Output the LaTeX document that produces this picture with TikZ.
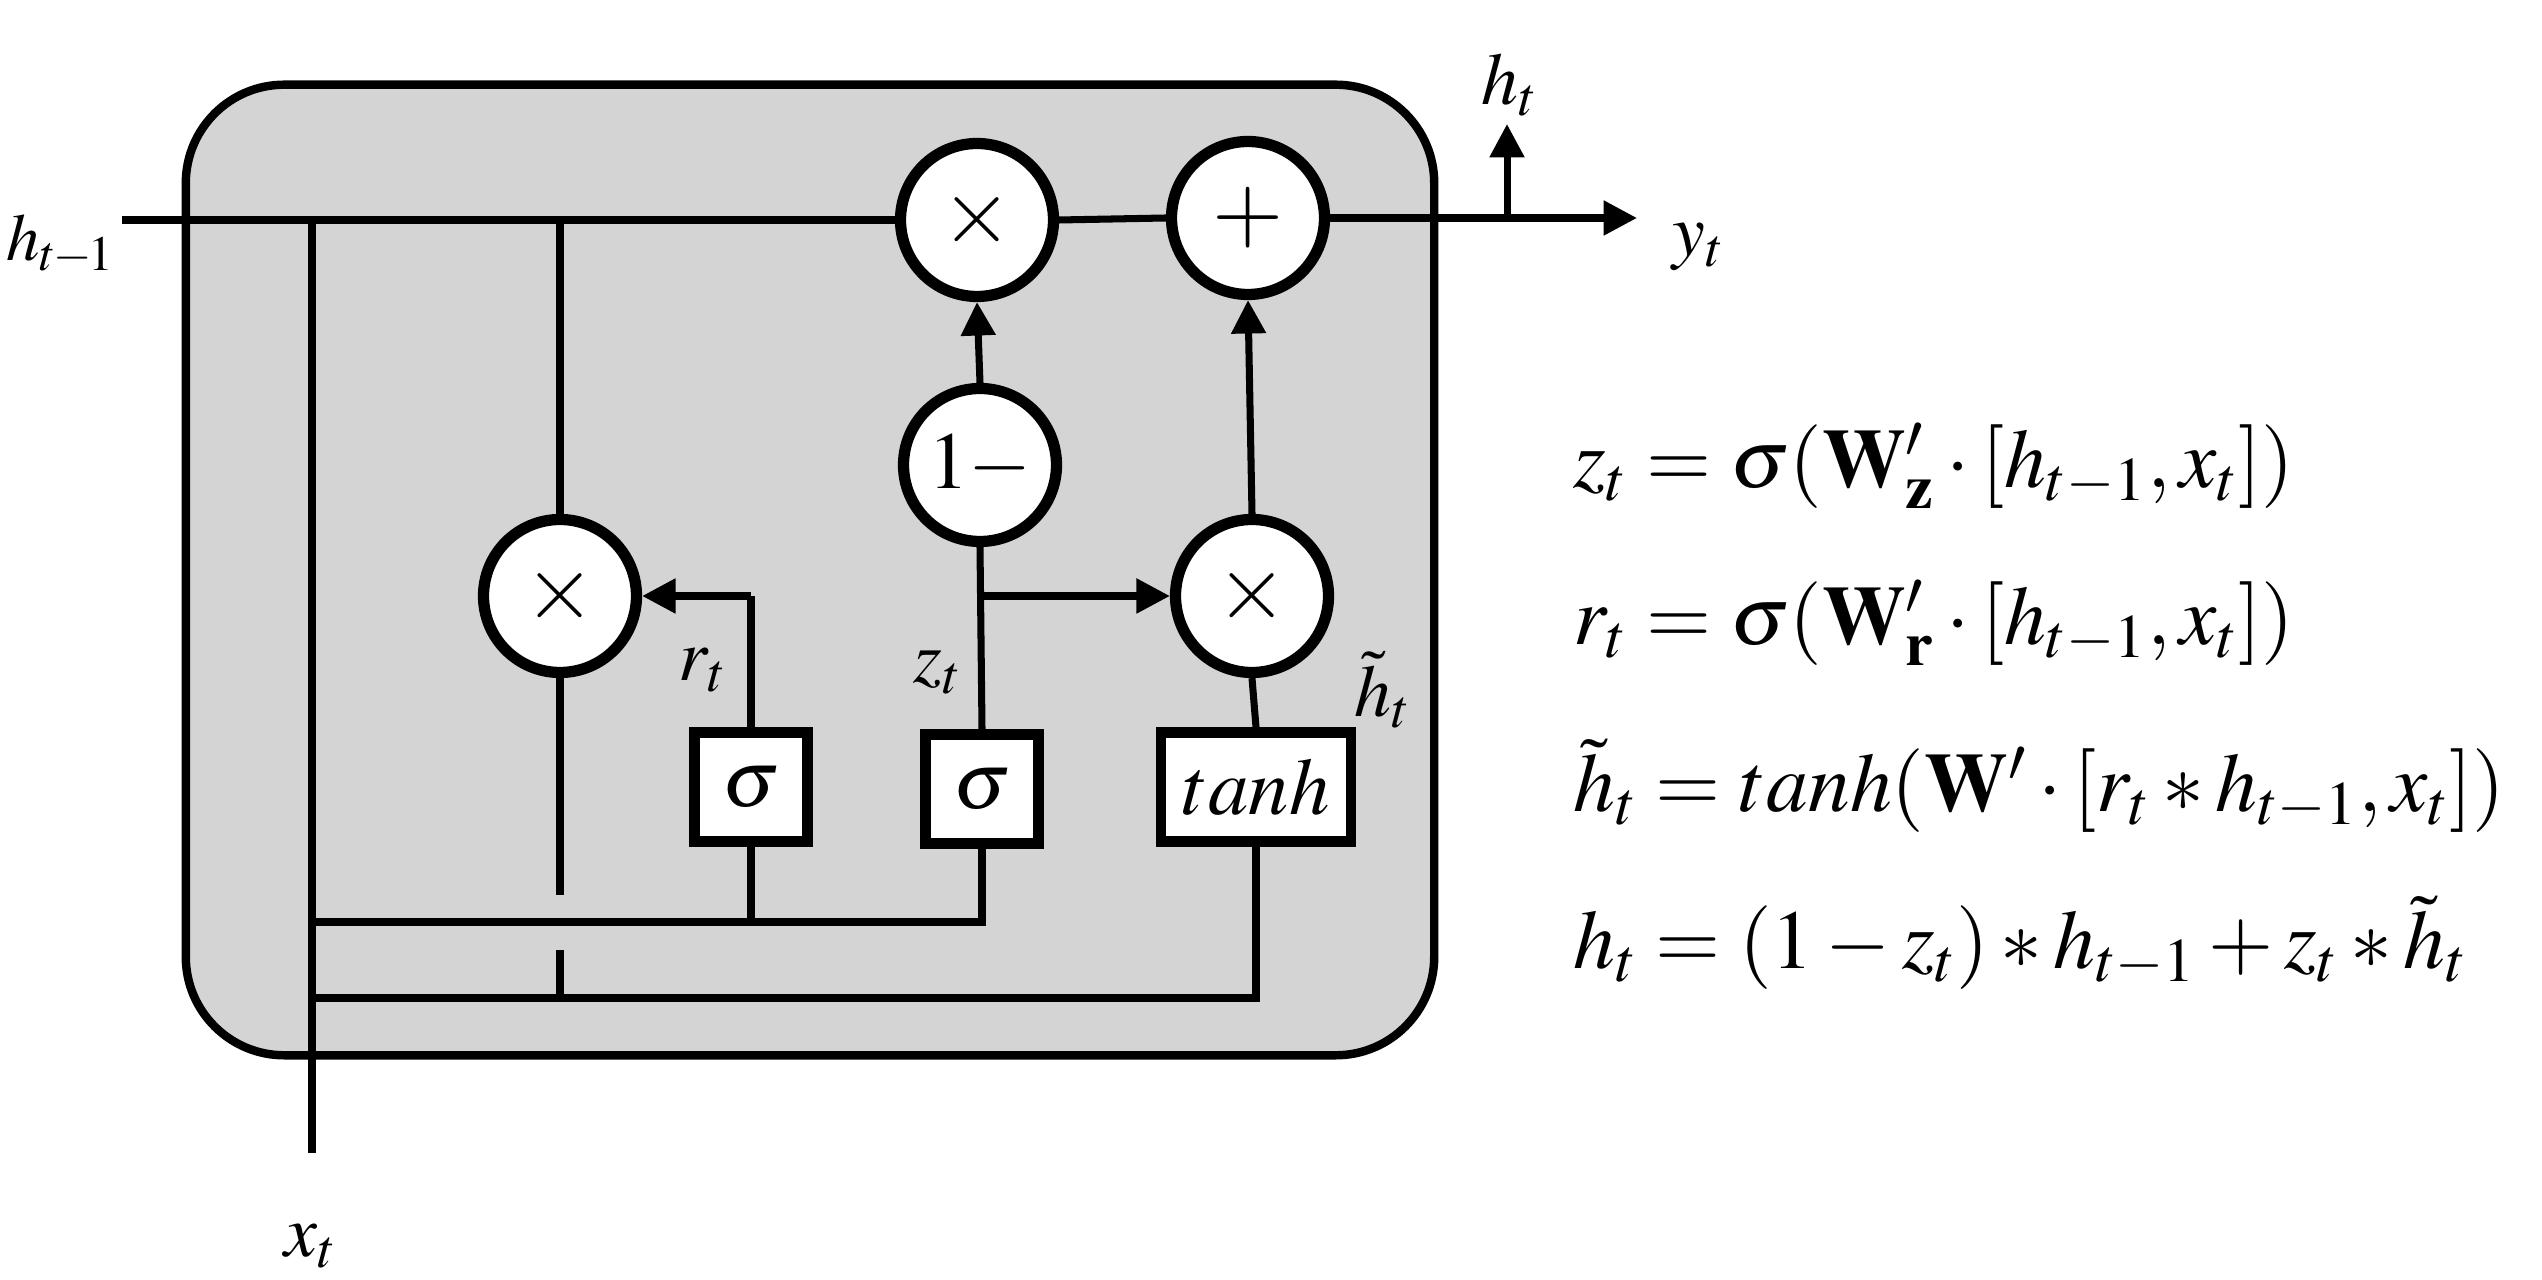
\documentclass[tikz,border=0pt]{standalone}
\usepackage{mathptmx}
\usetikzlibrary{arrows.meta}
\definecolor{boxgray}{RGB}{212,212,212}
\begin{document}
\begin{tikzpicture}[x=0.01cm,y=-0.01cm,
  wire/.style={line width=2pt},
  arr/.style={line width=2pt,-{Triangle[length=9.5pt,width=9.5pt]}},
  op/.style={circle,draw,line width=3.2pt,fill=white,minimum size=43.5pt,inner sep=0pt,font=\fontsize{26}{30}\selectfont},
  gate/.style={rectangle,draw,line width=3pt,fill=white,minimum height=31pt,inner sep=0pt,font=\fontsize{23}{27}\selectfont},
  lab/.style={inner sep=0pt,font=\fontsize{21}{25}\selectfont},
  eq/.style={anchor=base west,inner sep=0pt,font=\fontsize{23.8}{28}\selectfont}]
\useasboundingbox (0,0) rectangle (2542,1280);
% cell
\node[draw,line width=2.4pt,fill=boxgray,rounded corners=28pt,minimum width=355pt,minimum height=276pt,inner sep=0pt] (cell) at (810,570) {};
% operators
\node[op] (tx) at (977,220) {$\times$};
\node[op] (pl) at (1248,218) {$+$};
\node[op,font=\fontsize{23}{27}\selectfont] (om) at (980,465) {$1-$};
\node[op] (lx) at (560,596) {$\times$};
\node[op] (rx) at (1252,596) {$\times$};
\node[gate,minimum width=32pt] (s1) at (751,787) {$\sigma$};
\node[gate,minimum width=32pt] (s2) at (982,789) {$\sigma$};
\node[gate,minimum width=54pt] (th) at (1256,787) {$tanh$};
% coordinates
\coordinate (hin) at (122,220);
\coordinate (xa) at (312,220);
\coordinate (xb) at (312,1153);
\coordinate (la) at (560,220);
\coordinate (g1) at (560,895);
\coordinate (g2) at (560,950);
\coordinate (g3) at (560,998);
\coordinate (b1a) at (312,922);
\coordinate (b1b) at (982,922);
\coordinate (b1c) at (751,922);
\coordinate (b2a) at (312,998);
\coordinate (b2b) at (1256,998);
\coordinate (rc) at (751,596);
\coordinate (zc) at (982,596);
\coordinate (out) at (1637,218);
\coordinate (hj) at (1507,218);
\coordinate (hup) at (1507,124);
% wires
\draw[wire] (hin) -- (tx.west);
\draw[wire] (tx.east) -- (pl.west);
\draw[arr] (pl.east) -- (out);
\draw[arr] (hj) -- (hup);
\draw[wire] (xa) -- (xb);
\draw[wire] (la) -- (lx.north);
\draw[wire] (lx.south) -- (g1);
\draw[wire] (g2) -- (g3);
\draw[wire] (b1a) -- (b1b) -- (s2.south);
\draw[wire] (s1.south) -- (b1c);
\draw[wire] (b2a) -- (b2b) -- (th.south);
\draw[wire] (s1.north) -- (rc);
\draw[arr] (rc) -- (lx.east);
\draw[wire] (s2.north) -- (om.south);
\draw[arr] (zc) -- (rx.west);
\draw[arr] (om.north) -- (tx.south);
\draw[wire] (th.north) -- (rx.south);
\draw[arr] (rx.north) -- (pl.south);
% labels
\node[lab,anchor=west,font=\fontsize{19}{23}\selectfont] (lhin) at (6,245) {$h_{t\mkern-1mu-\mkern-1mu1}$};
\node[lab] (lht) at (1510,85) {$h_t$};
\node[lab] (lyt) at (1699,247) {$y_t$};
\node[lab] (lxt) at (311,1246) {$x_t$};
\node[lab] (lrt) at (703,670) {$r_t$};
\node[lab] (lzt) at (938,672) {$z_t$};
\node[lab] (lhh) at (1383,690) {$\tilde{h}_t$};
% equations
\node[eq] (e1) at (1573,488) {$z_t=\sigma(\mathbf{W}'_{\mathbf{z}}\cdot[h_{t-1},x_t])$};
\node[eq] (e2) at (1573,645) {$r_t=\sigma(\mathbf{W}'_{\mathbf{r}}\cdot[h_{t-1},x_t])$};
\node[eq] (e3) at (1573,812) {$\tilde{h}_t=tanh(\mathbf{W}'\cdot[r_t*h_{t-1},x_t])$};
\node[eq] (e4) at (1573,969) {$h_t=(1-z_t)*h_{t-1}+z_t*\tilde{h}_t$};
\end{tikzpicture}
\end{document}
